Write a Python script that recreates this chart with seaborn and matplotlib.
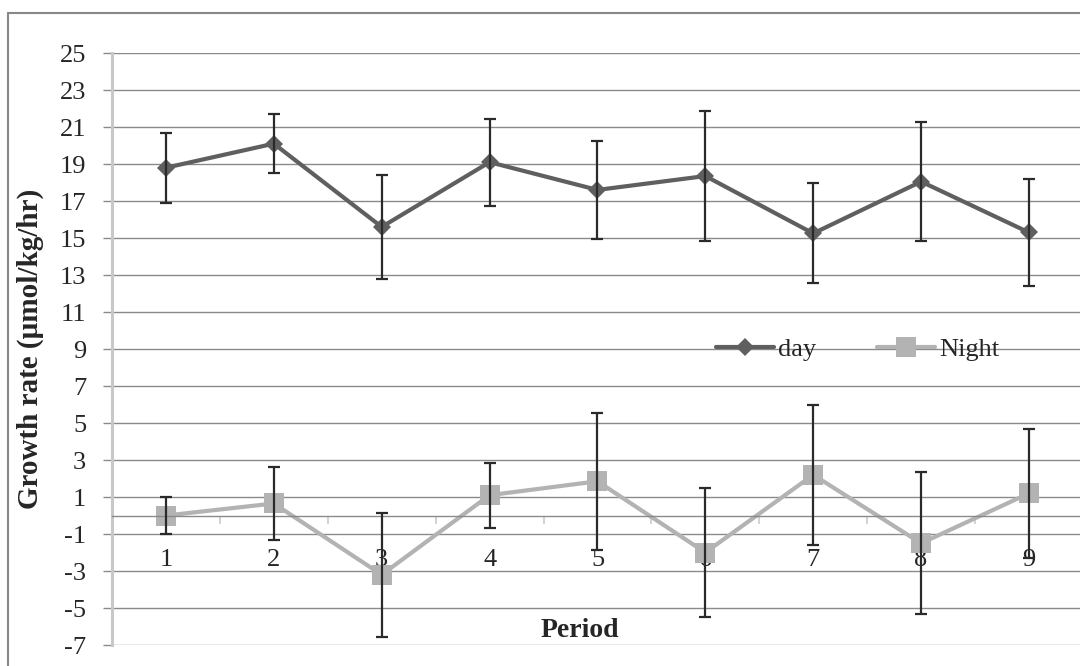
import matplotlib
matplotlib.use("Agg")
import matplotlib.pyplot as plt
import seaborn as sns
import pandas as pd
from matplotlib.lines import Line2D

# values
periods = [1, 2, 3, 4, 5, 6, 7, 8, 9]
day_rate = [18.8, 20.1, 15.6, 19.1, 17.6, 18.35, 15.25, 18.05, 15.3]
day_err = [1.9, 1.6, 2.8, 2.35, 2.65, 3.5, 2.7, 3.2, 2.9]
night_rate = [0.0, 0.65, -3.2, 1.1, 1.85, -2.0, 2.2, -1.5, 1.2]
night_err = [1.0, 1.95, 3.35, 1.75, 3.7, 3.5, 3.8, 3.85, 3.5]
y_ticks = list(range(-7, 26, 2))

df = pd.DataFrame({"period": periods, "day": day_rate, "night": night_rate})

sns.set_style("white")
plt.rcParams["font.family"] = ["Liberation Serif", "DejaVu Serif"]
plt.rcParams["axes.unicode_minus"] = False

fig = plt.figure(figsize=(10.8, 6.66), dpi=100)
ax = fig.add_axes([0.1037, 0.0315, 0.899, 0.8889])

# lines + markers
sns.lineplot(data=df, x="period", y="day", ax=ax, color="#5f5f5f", lw=3,
             marker="D", markersize=9, markeredgewidth=0, label="day", zorder=2)
sns.lineplot(data=df, x="period", y="night", ax=ax, color="#b3b3b3", lw=3,
             marker="s", markersize=14, markeredgewidth=0, label="Night", zorder=2)

# error bars
ax.errorbar(periods, day_rate, yerr=day_err, fmt="none", ecolor="#2a2a2a",
            elinewidth=1.6, capsize=4.3, capthick=1.6, zorder=3)
ax.errorbar(periods, night_rate, yerr=night_err, fmt="none", ecolor="#2a2a2a",
            elinewidth=1.6, capsize=4.3, capthick=1.6, zorder=3)

ax.set_xlim(0.5, 9.5)
ax.set_ylim(-7, 25)
ax.set_yticks(y_ticks)
ax.set_yticklabels([str(t) for t in y_ticks], fontsize=19)
ax.yaxis.grid(True, color="#8a8a8a", lw=1.0)
ax.set_axisbelow(True)
ax.tick_params(axis="y", direction="out", length=6.5, width=1.0, color="#8a8a8a",
               pad=12, left=True)

# category axis sits on y = 0
for s in ["top", "right"]:
    ax.spines[s].set_visible(False)
ax.spines["left"].set_color("#c8c8c8")
ax.spines["left"].set_linewidth(2.2)
ax.spines["bottom"].set_position(("data", 0))
ax.spines["bottom"].set_color("#8a8a8a")
ax.spines["bottom"].set_linewidth(1.0)
ax.set_xticks(periods)
ax.set_xticklabels([str(p) for p in periods], fontsize=19)
ax.set_xticks([p + 0.5 for p in periods[:-1]], minor=True)
ax.tick_params(axis="x", which="major", length=0, pad=24)
ax.tick_params(axis="x", which="minor", direction="out", length=6, width=1.5,
               color="#d4d4d4", bottom=True)

ax.set_xlabel("Period", fontsize=20, fontweight="bold")
ax.xaxis.set_label_coords(0.482, 0.045)
ax.set_ylabel("Growth rate (µmol/kg/hr)", fontsize=21, fontweight="bold")
ax.yaxis.set_label_coords(-0.07, 0.5)

ax.legend(loc="center", bbox_to_anchor=(0.768, 0.5), ncol=2, frameon=False,
          fontsize=19, handlelength=2.2, handletextpad=0.15, columnspacing=2.3)

# outer chart border (runs off the right and bottom edges)
fig.add_artist(Line2D([0.0074, 0.0074], [0, 0.9805], transform=fig.transFigure,
                      color="#888888", lw=1.5))
fig.add_artist(Line2D([0.0074, 1], [0.9805, 0.9805], transform=fig.transFigure,
                      color="#888888", lw=1.5))

plt.savefig("out.png", dpi=100)
